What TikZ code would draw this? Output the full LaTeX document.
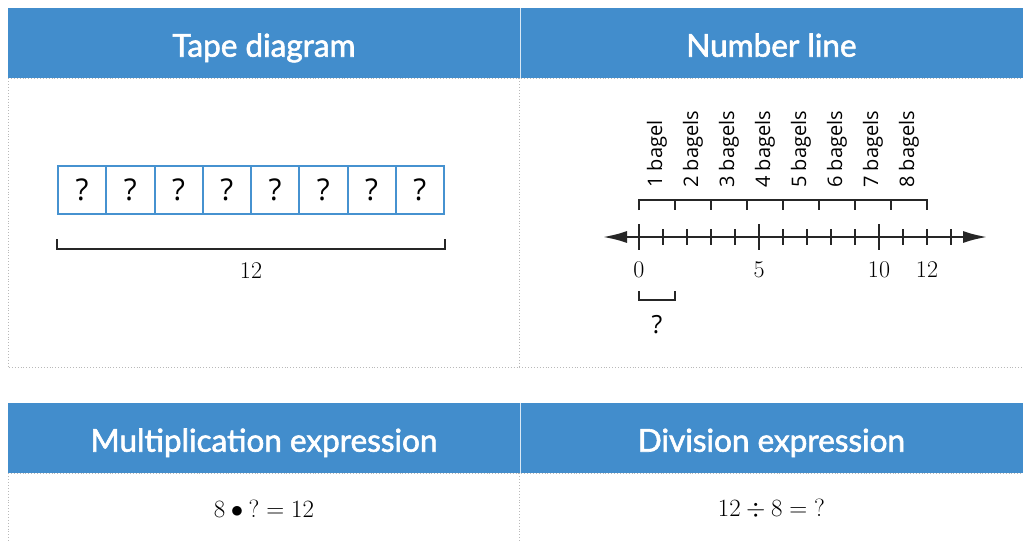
\documentclass[tikz,border=0pt]{standalone}
\usepackage{fontspec}
\usetikzlibrary{arrows.meta,calc,positioning}
\newfontfamily\headfont[FakeBold=1.9]{Lato}
\newfontfamily\labfont{Open Sans}
\definecolor{headblue}{RGB}{66,141,204}
\definecolor{tapeblue}{RGB}{70,146,208}
\definecolor{gridgray}{RGB}{185,185,185}
\newcommand{\fsz}[1]{\fontsize{#1}{#1}\selectfont}

\begin{document}
\begin{tikzpicture}[x=1pt,y=-1pt,>=Latex,
  head/.style={fill=headblue,text=white,minimum height=70pt,inner sep=0pt,anchor=north west,
    text height=27pt,text depth=0pt,font=\headfont\fsz{31.5}},
  cell/.style={draw=tapeblue,line width=2pt,minimum width=48.25pt,minimum height=48pt,inner sep=0pt,font=\labfont\fsz{30}},
  grid/.style={gridgray,dotted,line width=0.9pt},
  brack/.style={line width=2pt,black!85},
  smalltick/.style={line width=1.1pt,black!85},
  bigtick/.style={line width=2pt,black!85},
  num/.style={font=\fsz{24}},
  bagel/.style={rotate=90,anchor=west,inner sep=0pt,font=\labfont\fsz{20}}]
\useasboundingbox (0,0) rectangle (1023,541);
% headers
\node[head,minimum width=511.5pt] (hTape) at (8,8) {Tape diagram};
\node[head,minimum width=503.5pt] (hLine) at (519.5,8) {Number line};
\node[head,minimum width=511.5pt] (hMult) at (8,403) {Multiplication expression};
\node[head,minimum width=503.5pt] (hDiv) at (519.5,403) {Division expression};
\draw[white!80!headblue,line width=0.8pt] (hTape.north east) -- (hTape.south east);
\draw[white!80!headblue,line width=0.8pt] (hMult.north east) -- (hMult.south east);
% dotted frame
\draw[grid] (hTape.south west) -- (hLine.south east);
\draw[grid] (hTape.south west) -- ++(0,289) coordinate (bl) -- (bl -| hLine.south east);
\draw[grid] (hTape.south east) -- ++(0,289);
\draw[grid] (hMult.south west) -- (hDiv.south east);
\draw[grid] (hMult.south west) -- ++(0,68);
\draw[grid] (hMult.south east) -- ++(0,68);
% tape diagram
\foreach \i in {1,...,8}
  \node[cell] (c\i) at ({58+48.25*(\i-0.5)},190) {?};
\draw[brack] ($(c1.south west)+(0,24)$) coordinate (tL) -- ++(0,10) -| ($(c8.south east)+(0,24)$) coordinate (tR);
\node[num] (total) at ($(tL)!0.5!(tR)+(0,32)$) {12};
% number line
\coordinate (z) at (639,237);
\coordinate (nlL) at (603,237);
\coordinate (nlR) at (987,237);
\draw[line width=2pt,black!85,{Latex[length=24pt,width=12pt]}-{Latex[length=24pt,width=12pt]}] (nlL) -- (nlR);
\foreach \k in {0,...,13}
  \draw[smalltick] ($(z)+(24*\k,-8)$) -- ++(0,16);
\foreach \k in {0,5,10}
  \draw[bigtick] ($(z)+(24*\k,-13)$) -- ++(0,26);
\foreach \k in {0,5,10,12}
  \node[num] (n\k) at ($(z)+(24*\k,33)$) {\k};
% bagel brackets
\draw[brack] ($(z)+(0,-27)$) -- ++(0,-10) -- ++(288,0) -- ++(0,10);
\foreach \b in {1,...,7}
  \draw[brack] ($(z)+(36*\b,-37)$) -- ++(0,10);
\foreach \b in {1,...,8}
  \node[bagel] (b\b) at ($(z)+(36*\b-18,-49)$) {\b\ bagel\ifnum\b>1 s\fi};
\draw[brack] ($(z)+(0,54)$) -- ++(0,9) -- ++(36,0) -- ++(0,-9);
\node[font=\labfont\fsz{25}] (one) at ($(z)+(18,88)$) {?};
% expressions
\node[num] (mult) at ($(hMult.south)+(0,35)$) {$8\bullet{?}={}12$};
\node[num] (div) at ($(hDiv.south)+(0,35)$) {$12\div8={?}$};
\end{tikzpicture}
\end{document}
